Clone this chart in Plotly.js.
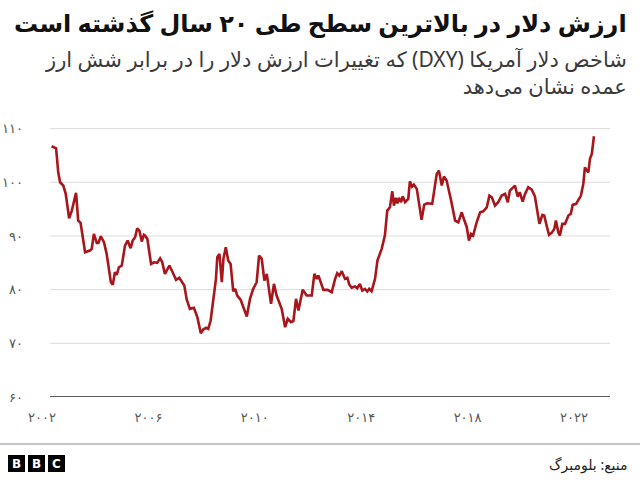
<!DOCTYPE html>
<html>
<head>
<meta charset="utf-8">
<script src="https://cdn.plot.ly/plotly-3.0.1.min.js"></script>
<style>
html,body{margin:0;padding:0;background:#fff;}
#chart{width:640px;height:480px;}
</style>
</head>
<body>
<div id="chart"></div>
<script>
// Decimal-year positions and DXY index values
const years = [2002.36,2002.53,2002.61,2002.68,2002.80,2002.89,2003.02,2003.12,2003.28,2003.36,2003.45,2003.62,2003.80,2003.87,2003.95,2004.06,2004.12,2004.21,2004.33,2004.43,2004.59,2004.66,2004.74,2004.81,2004.89,2005.00,2005.12,2005.22,2005.33,2005.41,2005.50,2005.58,2005.66,2005.75,2005.83,2005.87,2005.96,2006.10,2006.21,2006.33,2006.44,2006.52,2006.62,2006.79,2006.91,2007.04,2007.16,2007.25,2007.35,2007.44,2007.56,2007.71,2007.84,2007.97,2008.06,2008.17,2008.25,2008.34,2008.44,2008.54,2008.59,2008.67,2008.76,2008.82,2008.91,2009.00,2009.09,2009.19,2009.26,2009.34,2009.44,2009.48,2009.57,2009.70,2009.82,2009.94,2010.07,2010.16,2010.26,2010.36,2010.45,2010.61,2010.72,2010.82,2011.01,2011.14,2011.24,2011.36,2011.45,2011.55,2011.64,2011.80,2011.95,2012.14,2012.24,2012.33,2012.39,2012.58,2012.74,2012.89,2013.02,2013.10,2013.18,2013.27,2013.39,2013.48,2013.55,2013.64,2013.77,2013.85,2013.95,2014.04,2014.14,2014.23,2014.30,2014.39,2014.52,2014.61,2014.77,2014.89,2014.98,2015.08,2015.17,2015.23,2015.30,2015.36,2015.42,2015.50,2015.56,2015.65,2015.77,2015.83,2015.91,2015.98,2016.09,2016.18,2016.27,2016.37,2016.48,2016.67,2016.75,2016.84,2016.92,2017.03,2017.11,2017.21,2017.38,2017.53,2017.65,2017.78,2017.88,2017.97,2018.05,2018.13,2018.21,2018.34,2018.47,2018.59,2018.72,2018.82,2018.91,2019.03,2019.15,2019.28,2019.41,2019.51,2019.59,2019.68,2019.78,2019.88,2019.96,2020.07,2020.16,2020.28,2020.41,2020.53,2020.62,2020.70,2020.81,2020.88,2020.97,2021.06,2021.16,2021.26,2021.32,2021.41,2021.47,2021.56,2021.66,2021.79,2021.88,2021.95,2022.08,2022.16,2022.26,2022.35,2022.41,2022.48,2022.54,2022.60,2022.67,2022.75];
const dxy = [106.70,106.33,101.86,100.00,99.39,97.90,93.30,94.73,98.03,92.87,92.44,86.96,87.28,87.60,90.39,88.72,88.72,89.94,88.83,86.67,81.38,80.89,83.24,82.76,84.17,84.49,88.21,89.14,87.71,89.14,89.76,91.43,91.01,88.96,90.20,90.07,89.46,84.80,85.10,84.99,85.85,85.10,82.94,84.49,83.24,81.82,82.20,81.56,80.76,78.16,76.42,76.61,74.86,71.88,72.57,72.89,72.70,74.25,78.58,82.01,86.03,86.67,81.38,85.74,87.90,85.42,84.80,79.70,80.15,78.90,78.29,77.97,76.72,74.99,78.29,80.15,81.38,86.35,85.74,81.69,82.94,77.36,81.08,78.90,76.42,73.00,74.56,73.93,74.12,78.29,76.11,79.96,78.90,78.90,82.94,82.01,82.63,79.96,79.96,79.52,82.01,83.05,82.63,83.43,82.01,82.20,80.95,80.34,80.58,80.26,81.08,79.83,80.15,79.65,80.15,79.70,82.01,85.42,87.60,90.07,94.73,95.34,98.32,95.66,97.09,96.09,97.09,96.28,97.39,96.28,96.91,100.19,99.20,99.57,98.77,95.34,93.00,95.85,96.09,95.98,98.32,101.56,102.18,99.39,101.06,100.32,96.59,92.87,92.55,94.41,92.87,91.62,89.14,90.39,90.07,92.55,94.41,94.60,95.34,97.52,97.21,95.66,96.28,97.52,97.84,96.28,98.45,98.96,99.39,97.34,98.14,96.41,97.84,99.07,98.64,97.39,94.41,92.25,93.93,93.80,91.94,90.20,90.58,91.32,92.87,90.69,90.07,92.25,92.25,93.80,94.12,95.79,95.98,96.59,97.52,99.70,102.79,102.18,101.86,104.36,105.29,108.57];

const xTickVals = [2002,2006,2010,2014,2018,2022];
const xTickText = ['۲۰۰۲','۲۰۰۶','۲۰۱۰','۲۰۱۴','۲۰۱۸','۲۰۲۲'];
const yTickVals = [60,70,80,90,100,110];
const yTickText = ['۶۰','۷۰','۸۰','۹۰','۱۰۰','۱۱۰'];
const gridVals = [70,80,90,100,110];

const titleText = 'ارزش دلار در بالاترین سطح طی ۲۰ سال گذشته است';
const subtitleLines = ['شاخص دلار آمریکا (DXY) که تغییرات ارزش دلار را در برابر شش ارز', 'عمده نشان می‌دهد'];
const sourceText = 'منبع: بلومبرگ';

// layout geometry (pixels)
const L = 36, R = 30, T = 123, B = 83, W = 640, H = 480;
const pw = W - L - R, ph = H - T - B;
const px = p => (p - L) / pw;
const py = p => (H - B - p) / ph;
const RLE = '\u202B', PDF = '\u202C';
const rtl = s => RLE + s + PDF;

const FONT = 'Noto Sans, DejaVu Sans, sans-serif';

const trace = {
  x: years, y: dxy, type: 'scatter', mode: 'lines',
  line: {color: '#a8161b', width: 2.6}, hoverinfo: 'skip'
};

const shapes = [];
gridVals.forEach(v => shapes.push({type:'line', layer:'below', xref:'paper', yref:'y', x0:px(50), x1:px(610), y0:v, y1:v, line:{color:'#dcdcdc', width:1}}));
shapes.push({type:'line', layer:'below', xref:'paper', yref:'y', x0:px(50), x1:px(610), y0:60, y1:60, line:{color:'#2a2a2a', width:1.6}});
shapes.push({type:'line', xref:'paper', yref:'paper', x0:px(0), x1:px(640), y0:py(444), y1:py(444), line:{color:'#8a8a8a', width:1}});

const annotations = [
  {text:'<b>'+rtl(titleText)+'</b>', xref:'paper', yref:'paper', x:px(629), y:py(4), xanchor:'right', yanchor:'top', showarrow:false, font:{family:FONT, size:24, color:'#111'}},
  {text:subtitleLines.map(rtl).join('<br>'), xref:'paper', yref:'paper', x:px(629), y:py(43), xanchor:'right', yanchor:'top', align:'right', showarrow:false, font:{family:FONT, size:21, color:'#3a3a3a'}},
  {text:rtl(sourceText), xref:'paper', yref:'paper', x:px(630), y:py(464), xanchor:'right', yanchor:'middle', showarrow:false, font:{family:FONT, size:14, color:'#222'}}
];
['B','B','C'].forEach((c, i) => {
  const x0 = 8 + i * 20;
  shapes.push({type:'rect', xref:'paper', yref:'paper', x0:px(x0), x1:px(x0+17), y0:py(472), y1:py(455), fillcolor:'#000', line:{width:0}});
  annotations.push({text:'<b>'+c+'</b>', xref:'paper', yref:'paper', x:px(x0+8.5), y:py(463.5), xanchor:'center', yanchor:'middle', showarrow:false, font:{family:'DejaVu Sans, sans-serif', size:12, color:'#fff'}});
});

const layout = {
  width: W, height: H,
  margin: {l: L, r: R, t: T, b: B},
  paper_bgcolor: '#fff', plot_bgcolor: 'rgba(0,0,0,0)',
  showlegend: false,
  xaxis: {
    range: [2002 + (L - 42) / 26.6, 2002 + (W - R - 42) / 26.6], tickvals: xTickVals, ticktext: xTickText,
    showgrid: false, zeroline: false, showline: false,
    ticks: '', ticklabelstandoff: 11,
    tickfont: {family: FONT, size: 13, color: '#555'}, fixedrange: true
  },
  yaxis: {
    range: [60, 60 + ph / 5.368], tickvals: yTickVals, ticktext: yTickText,
    showgrid: false, zeroline: false, showline: false,
    ticks: '', ticklabelstandoff: 12,
    tickfont: {family: FONT, size: 13, color: '#555'}, fixedrange: true
  },
  shapes: shapes,
  annotations: annotations
};

Plotly.newPlot('chart', [trace], layout, {displayModeBar: false, staticPlot: true});
</script>
</body>
</html>
